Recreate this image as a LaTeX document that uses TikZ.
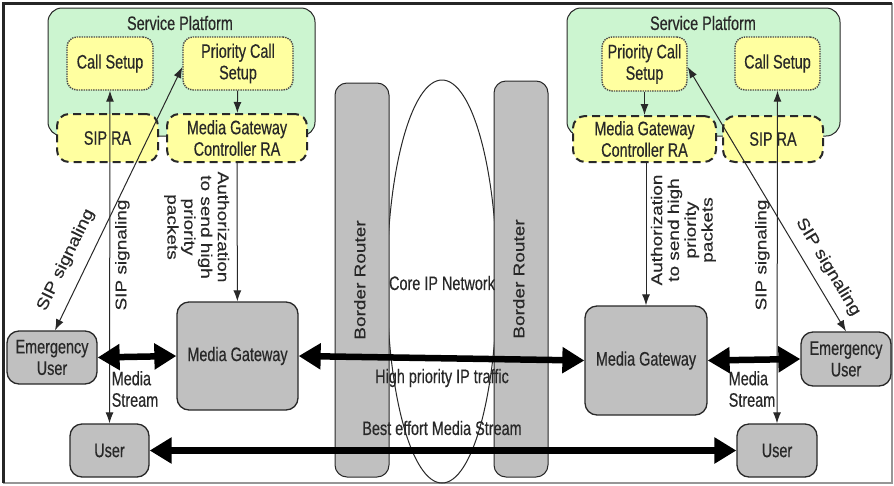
\documentclass[tikz,border=0pt]{standalone}
\usepackage{fontspec}
\setmainfont{Liberation Sans}[FakeBold=0.3]
\newfontfamily\narrowsans{Liberation Sans}[FakeStretch=0.74,FakeBold=0.4]
\usetikzlibrary{arrows.meta,shapes.geometric}

\definecolor{platgreen}{RGB}{204,245,208}
\definecolor{paleyellow}{RGB}{255,255,160}
\definecolor{boxgray}{RGB}{192,192,192}
\definecolor{inkgray}{RGB}{40,40,40}
\definecolor{framegray}{RGB}{150,150,150}

% horizontal labels use a condensed face, rotated ones a squeezed regular face
\newcommand{\htext}{\narrowsans\fontsize{19.5}{21.5}\selectfont}
\newcommand{\vtextfont}{\fontsize{19}{20.5}\selectfont}
\newcommand{\vtext}[1]{\scalebox{1}[0.82]{\begin{tabular}{@{}c@{}}#1\end{tabular}}}

\tikzset{
  platform/.style={draw=inkgray, line width=1pt, fill=platgreen, rounded corners=14pt},
  func/.style={draw=inkgray!85, densely dotted, line width=1.4pt, fill=paleyellow,
    rounded corners=10pt, inner sep=0pt, font=\htext, text=inkgray, align=center},
  ra/.style={draw=inkgray, dash pattern=on 8pt off 5pt, line width=2pt, fill=paleyellow,
    rounded corners=12pt, inner sep=0pt, font=\htext, text=inkgray, align=center},
  gbox/.style={draw=inkgray, line width=1.3pt, fill=boxgray, rounded corners=12pt,
    inner sep=0pt, font=\htext, text=inkgray, align=center},
  router/.style={draw=inkgray, line width=1pt, fill=boxgray, rounded corners=12pt,
    inner sep=0pt, text=inkgray},
  label/.style={font=\htext, text=inkgray, inner sep=0pt, align=center},
  vlabel/.style={font=\vtextfont, text=inkgray, inner sep=0pt},
  sig/.style={draw=inkgray, line width=1pt,
    {Latex[length=11pt,width=8pt]}-{Latex[length=11pt,width=8pt]}},
  ctrl/.style={draw=inkgray, line width=1pt, -{Latex[length=11pt,width=8pt]}},
  bulk/.style={draw=black, line width=6.5pt,
    {Triangle[length=22pt,width=25pt]}-{Triangle[length=22pt,width=25pt]}}
}

\begin{document}
\begin{tikzpicture}[x=1pt,y=-1pt]
\useasboundingbox (0,0) rectangle (894,485);
\fill[white] (0,0) rectangle (894,485);

% outer frame
\draw[line width=1.5pt, framegray] (892,3) -- (892,483) -- (3,483);
\draw[line width=3pt, black!85] (3,483) -- (3,3) -- (892,3);

% ---- left service platform ----
\draw[platform] (48,8) rectangle (315,136);
\node[label] (spl) at (180,23) {Service Platform};
\node[func, minimum width=86pt, minimum height=53pt] (CSL) at (110,63.5) {Call Setup};
\node[func, minimum width=110pt, minimum height=53pt] (PCSL) at (238,63.5) {Priority Call\\Setup};
\node[ra, minimum width=101pt, minimum height=48pt] (SRAL) at (107.5,138) {SIP RA};
\node[ra, minimum width=140pt, minimum height=48pt] (MGCL) at (237,138) {Media Gateway\\Controller RA};

% ---- right service platform ----
\draw[platform] (567,8) rectangle (840,136);
\node[label] (spr) at (703,23) {Service Platform};
\node[func, minimum width=85pt, minimum height=54pt] (PCSR) at (644.5,64) {Priority Call\\Setup};
\node[func, minimum width=85pt, minimum height=53pt] (CSR) at (777.5,63.5) {Call Setup};
\node[ra, minimum width=143pt, minimum height=46pt] (MGCR) at (644.5,139) {Media Gateway\\Controller RA};
\node[ra, minimum width=100pt, minimum height=46pt] (SRAR) at (773,139) {SIP RA};

% ---- core network and border routers ----
\node[ellipse, draw=inkgray, line width=1pt, minimum width=110pt, minimum height=403pt,
  inner sep=0pt] (core) at (442,281.5) {};
\node[router, minimum width=54pt, minimum height=394pt] (BRL) at (362,280)
  {\rotatebox{90}{\vtextfont\vtext{Border Router}}};
\node[router, minimum width=54pt, minimum height=396pt] (BRR) at (521,279)
  {\rotatebox{90}{\vtextfont\vtext{Border Router}}};
\node[label] (corelbl) at (442,283) {Core IP Network};

% ---- gateways and users ----
\node[gbox, minimum width=121pt, minimum height=108pt] (MGL) at (237.5,356) {Media Gateway};
\node[gbox, minimum width=122pt, minimum height=109pt] (MGR) at (646,360.5) {Media Gateway};
\node[gbox, minimum width=90pt, minimum height=53pt] (EUL) at (52,357.5) {Emergency\\User};
\node[gbox, minimum width=90pt, minimum height=54pt] (EUR) at (846,359) {Emergency\\User};
\node[gbox, minimum width=79pt, minimum height=53pt] (UL) at (109.5,450.5) {User};
\node[gbox, minimum width=80pt, minimum height=53pt] (UR) at (777,450.5) {User};

% ---- control connectors ----
\draw[ctrl] (PCSL) -- (MGCL);
\draw[ctrl] (PCSR) -- (MGCR);
\draw[ctrl] (MGCL) -- (MGL);
\draw[ctrl] (MGCR.south -| MGR.north) -- (MGR.north);
\draw[sig] (CSL.south) -- (UL.north);
\draw[sig] (CSR.south) -- (UR.north);
\draw[sig] ([xshift=3pt]EUL.north) -- ([yshift=-3.5pt]PCSL.west);
\draw[sig] ([yshift=-3pt]PCSR.east) -- (EUR.north);

% ---- media streams ----
\draw[bulk] (EUL.east) -- (MGL.west);
\draw[bulk] (MGR.east) -- (EUR.west);
\draw[bulk] (MGL.east) -- (MGR.west);
\draw[bulk] (UL.east) -- (UR.west);

% ---- connector labels ----
\node[vlabel, rotate=-90] (authl) at (196,227)
  {\vtext{Authorization\\to send high\\priority\\packets}};
\node[vlabel, rotate=90] (authr) at (684,230)
  {\vtext{Authorization\\to send high\\priority\\packets}};
\node[vlabel, rotate=90] (sipvl) at (123,255) {\vtext{SIP signaling}};
\node[vlabel, rotate=90] (sipvr) at (763,255) {\vtext{SIP signaling}};
\node[vlabel, rotate=64] (sipdl) at (66,260) {\scalebox{1}[0.86]{SIP signaling}};
\node[vlabel, rotate=-59] (sipdr) at (828,267) {\scalebox{1}[0.86]{SIP signaling}};
\node[label, align=left] (msl) at (135,389) {Media\\Stream};
\node[label, align=left] (msr) at (752,389) {Media\\Stream};
\node[label] (hplbl) at (442,378) {High priority IP traffic};
\node[label] (belbl) at (442,428) {Best effort Media Stream};
\end{tikzpicture}
\end{document}
